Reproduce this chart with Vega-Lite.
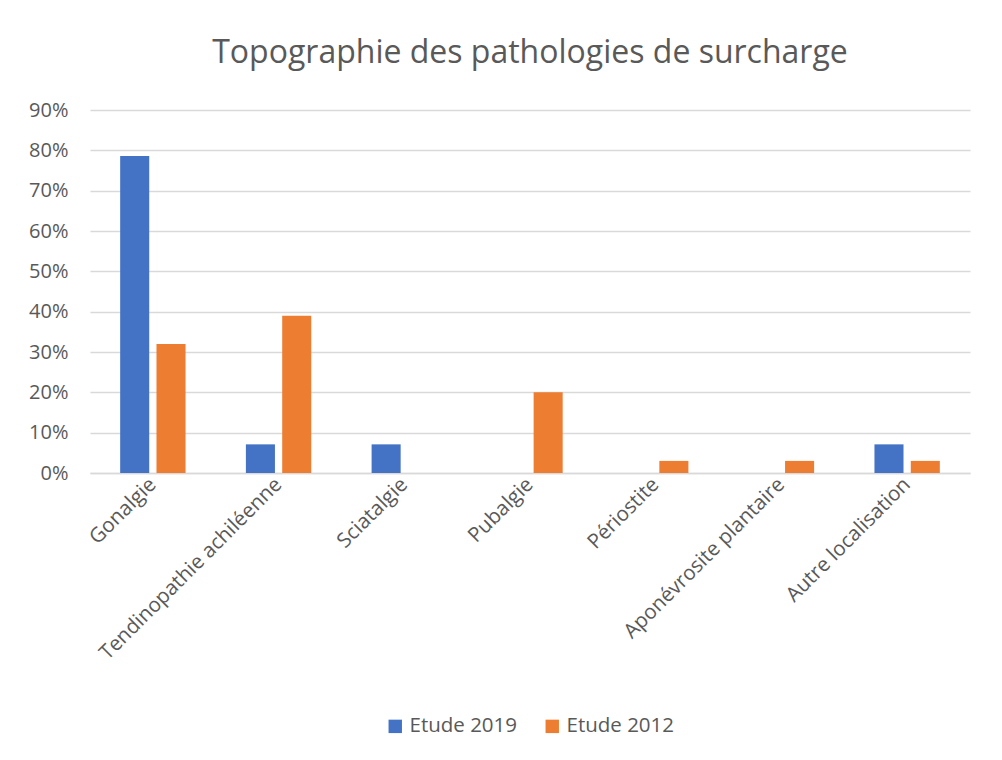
{
  "$schema": "https://vega.github.io/schema/vega-lite/v6.json",
  "width": 880,
  "height": 363,
  "padding": {"left": 28, "top": 37, "right": 30, "bottom": 10},
  "background": "white",
  "title": {
    "text": "Topographie des pathologies de surcharge",
    "fontSize": 32,
    "font": "Open Sans",
    "fontWeight": "normal",
    "color": "#595959",
    "anchor": "middle",
    "offset": 30
  },
  "data": {
    "values": [
      {"cat": "Gonalgie", "serie": "Etude 2019", "v": 0.786},
      {"cat": "Gonalgie", "serie": "Etude 2012", "v": 0.32},
      {"cat": "Tendinopathie achiléenne", "serie": "Etude 2019", "v": 0.071},
      {"cat": "Tendinopathie achiléenne", "serie": "Etude 2012", "v": 0.39},
      {"cat": "Sciatalgie", "serie": "Etude 2019", "v": 0.071},
      {"cat": "Sciatalgie", "serie": "Etude 2012", "v": 0},
      {"cat": "Pubalgie", "serie": "Etude 2019", "v": 0},
      {"cat": "Pubalgie", "serie": "Etude 2012", "v": 0.20},
      {"cat": "Périostite", "serie": "Etude 2019", "v": 0},
      {"cat": "Périostite", "serie": "Etude 2012", "v": 0.03},
      {"cat": "Aponévrosite plantaire", "serie": "Etude 2019", "v": 0},
      {"cat": "Aponévrosite plantaire", "serie": "Etude 2012", "v": 0.03},
      {"cat": "Autre localisation", "serie": "Etude 2019", "v": 0.071},
      {"cat": "Autre localisation", "serie": "Etude 2012", "v": 0.03}
    ]
  },
  "mark": {"type": "bar"},
  "encoding": {
    "x": {
      "field": "cat",
      "type": "nominal",
      "sort": null,
      "scale": {"paddingInner": 0.48, "paddingOuter": 0.24},
      "axis": {
        "title": null,
        "labelAngle": -45,
        "labelAlign": "right",
        "labelBaseline": "middle",
        "labelFontSize": 20.5,
        "labelFont": "Open Sans",
        "labelColor": "#595959",
        "labelPadding": 8,
        "labelLimit": 400,
        "ticks": false,
        "domain": true,
        "domainColor": "#D9D9D9",
        "domainWidth": 1.5
      }
    },
    "xOffset": {
      "field": "serie",
      "type": "nominal",
      "sort": ["Etude 2019", "Etude 2012"],
      "scale": {"paddingInner": 0.2, "paddingOuter": 0}
    },
    "y": {
      "field": "v",
      "type": "quantitative",
      "scale": {"domain": [0, 0.9]},
      "axis": {
        "title": null,
        "format": ".0%",
        "values": [0, 0.1, 0.2, 0.3, 0.4, 0.5, 0.6, 0.7, 0.8, 0.9],
        "labelFontSize": 20,
        "labelFont": "Open Sans",
        "labelColor": "#595959",
        "labelPadding": 22,
        "ticks": false,
        "domain": false,
        "grid": true,
        "gridColor": "#D9D9D9",
        "gridWidth": 1.5
      }
    },
    "color": {
      "field": "serie",
      "type": "nominal",
      "sort": ["Etude 2019", "Etude 2012"],
      "scale": {"domain": ["Etude 2019", "Etude 2012"], "range": ["#4472C4", "#ED7D31"]},
      "legend": {
        "title": null,
        "orient": "bottom",
        "direction": "horizontal",
        "symbolType": "square",
        "symbolSize": 180,
        "symbolStrokeWidth": 0,
        "labelFontSize": 20.5,
        "labelFont": "Open Sans",
        "labelColor": "#595959",
        "labelOffset": 4,
        "columnPadding": 24,
        "offset": 52
      }
    }
  },
  "config": {
    "view": {"stroke": null},
    "legend": {"layout": {"bottom": {"anchor": "middle"}}}
  }
}
